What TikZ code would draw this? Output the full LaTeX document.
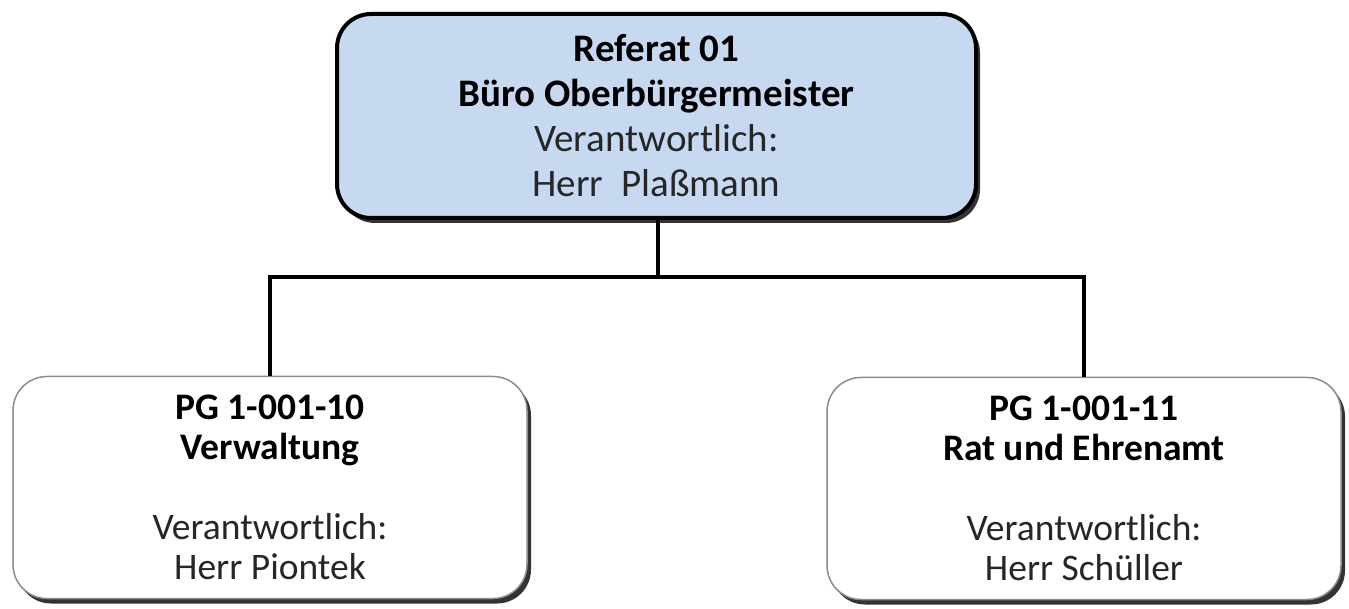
\documentclass[tikz,border=0pt]{standalone}
\usepackage{fontspec}
\setmainfont{Carlito}
\usetikzlibrary{shadows}
\definecolor{refblue}{RGB}{198,217,241}
\tikzset{
    orgbox/.style={rounded corners=34pt, align=center, inner sep=0pt,
        drop shadow={shadow xshift=4pt, shadow yshift=-5pt, opacity=0.8, fill=black}},
    headbox/.style={orgbox, draw=black, line width=4pt, fill=refblue,
        minimum width=639pt, minimum height=204pt, font=\fontsize{39}{45}\selectfont},
    unitbox/.style={orgbox, draw=black!45, line width=1.5pt, fill=white,
        minimum width=514pt, minimum height=222pt, font=\fontsize{37.5}{40}\selectfont},
    link/.style={line width=3.5pt}
}
\begin{document}
\begin{tikzpicture}[x=1pt,y=-1pt]
        \useasboundingbox (0,0) rectangle (1349,609);
        \node [headbox] (ref) at (656.5,116) {\textbf{Referat 01}\\ \textbf{Büro Oberbürgermeister}\\ \color{black!85}Verantwortlich:\\ \color{black!85}Herr~ Plaßmann};
        \node [unitbox] (pgverw) at (270,487.5) {\textbf{PG 1-001-10}\\ \textbf{Verwaltung}\\[40pt] \color{black!85}Verantwortlich:\\ \color{black!85}Herr Piontek};
        \node [unitbox] (pgrat) at (1084,488.5) {\textbf{PG 1-001-11}\\ \textbf{Rat und Ehrenamt}\\[40pt] \color{black!85}Verantwortlich:\\ \color{black!85}Herr Schüller};
        \coordinate (bus) at (658,277);
        \draw [link] (ref.south -| bus) -- (bus);
        \draw [link] (pgverw.north) |- (bus) -| (pgrat.north);
\end{tikzpicture}
\end{document}
